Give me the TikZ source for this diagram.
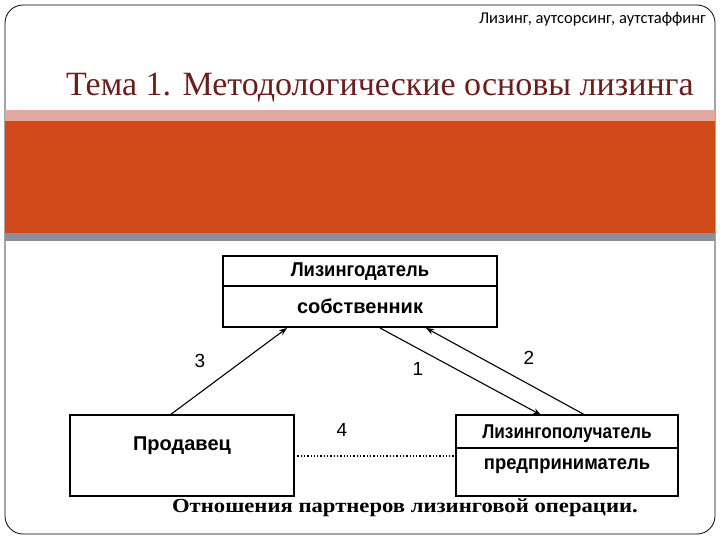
\documentclass[tikz,border=0pt]{standalone}
\usepackage{fontspec}
\setmainfont{Liberation Serif}
\newfontfamily\arialf{Liberation Sans}
\newfontfamily\calf{Carlito}
\usetikzlibrary{arrows.meta}
\definecolor{titlered}{HTML}{6B1E1E}
\definecolor{bandpink}{HTML}{E2A9A0}
\definecolor{bandorange}{HTML}{D04A1A}
\definecolor{bandgray}{HTML}{8A9196}
\begin{document}
\begin{tikzpicture}[x=1pt,y=-1pt,
  lbl/.style={font=\arialf\bfseries\fontsize{20}{22}\selectfont,inner sep=0},
  num/.style={font=\arialf\fontsize{19}{21}\selectfont,inner sep=0},
  conn/.style={line width=1.1pt,-{Stealth[length=8pt,width=6pt]}},
  bx/.style={draw,line width=1.4pt,fill=white}]
\useasboundingbox (0,0) rectangle (720,540);
\fill[white] (0,0) rectangle (720,540);
\draw[line width=0.8pt,rounded corners=18pt] (5,5) rectangle (715,534);
\fill[bandpink] (5,110) rectangle (715,121);
\fill[bandorange] (5,121) rectangle (715,233);
\fill[bandgray] (5,233) rectangle (715,241);
\node[anchor=east,font=\calf\fontsize{16.5}{18}\selectfont,inner sep=0] (hdr) at (706,19) {Лизинг, аутсорсинг, аутстаффинг};
\node[anchor=base,font=\fontsize{34}{36}\selectfont,text=titlered,inner sep=0] (title) at (380,96) {Тема 1. Методологические основы лизинга};
% boxes
\draw[bx] (223,256) rectangle (497,327);
\draw[line width=1.4pt] (223,286) -- (497,286);
\node[lbl] (lessor) at (360,272) {\scalebox{0.92}[1]{Лизингодатель}};
\node[lbl] (owner) at (360,306) {собственник};
\draw[bx] (70,415) rectangle (294,496);
\node[lbl] (seller) at (182,446) {Продавец};
\draw[bx] (456,415) rectangle (678,496);
\draw[line width=1.4pt] (456,448) -- (678,448);
\node[lbl] (lessee) at (567,434) {\scalebox{0.86}[1]{Лизингополучатель}};
\node[lbl] (entr) at (567,466) {\scalebox{0.92}[1]{предприниматель}};
\coordinate (a3s) at (170,415); \coordinate (a3e) at (287,328);
\coordinate (a1s) at (380,328); \coordinate (a1e) at (541,415);
\coordinate (a2s) at (585,415); \coordinate (a2e) at (426,328);
\draw[conn] (a3s) -- (a3e);
\draw[conn] (a1s) -- (a1e);
\draw[conn] (a2s) -- (a2e);
\coordinate (d1) at (294,456); \coordinate (d2) at (456,456);
\draw[line width=1.3pt,dotted] (d1) -- (d2);
\node[num] (n3) at (200,361) {3};
\node[num] (n1) at (418,369) {1};
\node[num] (n2) at (529,358) {2};
\node[num] (n4) at (342,430) {4};
\node[font=\bfseries\fontsize{21}{23}\selectfont,inner sep=0] (cap) at (405,508) {\scalebox{1.08}[0.95]{Отношения партнеров лизинговой операции.}};
\end{tikzpicture}
\end{document}
